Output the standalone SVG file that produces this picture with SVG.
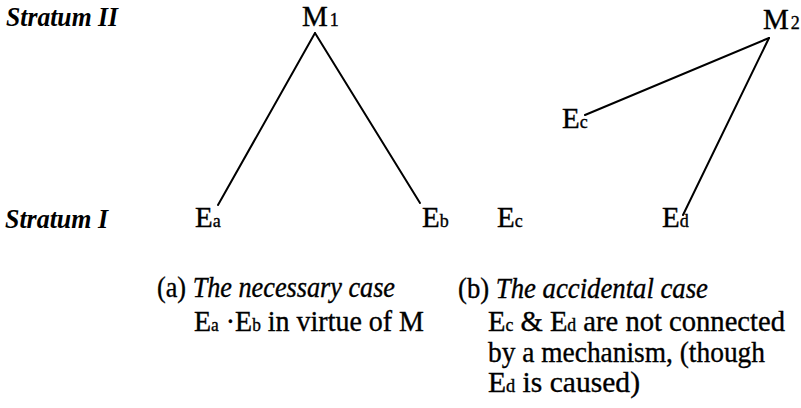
<svg xmlns="http://www.w3.org/2000/svg" width="801" height="408" viewBox="0 0 801 408">
<style>
text{font-family:'Liberation Serif','Times New Roman','DejaVu Serif',serif;fill:#000;stroke:#000;stroke-width:0.35}
.t{font-size:29px}
.it{font-style:italic}
.strat{font-style:italic;font-weight:bold;font-size:28px;stroke-width:0}
.sub{font-size:18px}
.cap{font-size:29px}
.edge{stroke:#000;stroke-width:2;fill:none;stroke-linecap:round}
</style>
<rect width="801" height="408" fill="#fff"/>
<g id="labels">
<text class="strat" x="6" y="26" textLength="112" lengthAdjust="spacingAndGlyphs">Stratum II</text>
<text class="strat" x="5" y="228" textLength="103" lengthAdjust="spacingAndGlyphs">Stratum I</text>
</g>
<g id="connectors">
<line class="edge" x1="315" y1="33" x2="218" y2="205"/>
<line class="edge" x1="315" y1="33" x2="420" y2="203"/>
<line class="edge" x1="769" y1="38" x2="585" y2="115"/>
<line class="edge" x1="769" y1="38" x2="683" y2="215"/>
</g>
<g id="M1"><text class="t" x="302" y="26">M<tspan class="sub" dx="2">1</tspan></text></g>
<g id="M2"><text class="t" x="763" y="29">M<tspan class="sub" dx="2">2</tspan></text></g>
<g id="Ea"><text class="t" x="195" y="227">E<tspan class="sub">a</tspan></text></g>
<g id="Eb"><text class="t" x="422" y="227">E<tspan class="sub">b</tspan></text></g>
<g id="Ec"><text class="t" x="497" y="227">E<tspan class="sub">c</tspan></text></g>
<g id="Ed"><text class="t" x="662" y="227">E<tspan class="sub">d</tspan></text></g>
<g id="Ec2"><text class="t" x="562" y="128">E<tspan class="sub">c</tspan></text></g>
<g id="caption-a">
<text class="cap" x="157" y="297" textLength="238" lengthAdjust="spacingAndGlyphs">(a) <tspan class="it">The necessary case</tspan></text>
<text class="cap" x="194" y="331" textLength="230" lengthAdjust="spacingAndGlyphs">E<tspan class="sub">a</tspan> ·E<tspan class="sub">b</tspan> in virtue of M</text>
</g>
<g id="caption-b">
<text class="cap" x="458" y="298" textLength="250" lengthAdjust="spacingAndGlyphs">(b) <tspan class="it">The accidental case</tspan></text>
<text class="cap" x="488" y="331" textLength="297" lengthAdjust="spacingAndGlyphs">E<tspan class="sub">c</tspan> &amp; E<tspan class="sub">d</tspan> are not connected</text>
<text class="cap" x="488" y="362" textLength="277" lengthAdjust="spacingAndGlyphs">by a mechanism, (though</text>
<text class="cap" x="488" y="392" textLength="152" lengthAdjust="spacingAndGlyphs">E<tspan class="sub">d</tspan> is caused)</text>
</g>
</svg>
